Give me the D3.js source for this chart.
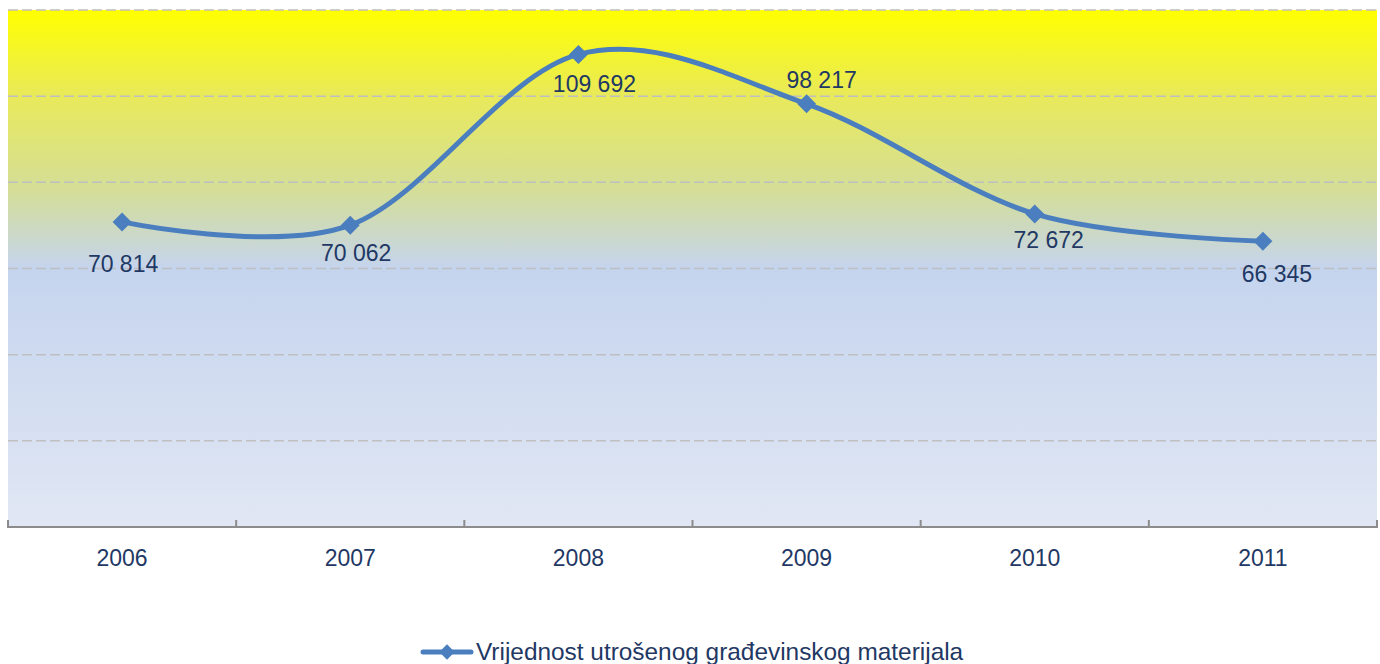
<!DOCTYPE html>
<html lang="hr">
<head>
  <meta charset="UTF-8">
  <title>Vrijednost utrošenog građevinskog materijala</title>
  <script src="https://cdn.jsdelivr.net/npm/d3@7/dist/d3.min.js"></script>
  <style>
  html, body { margin: 0; padding: 0; background: #fff; }
  svg { display: block; font-family: "Liberation Sans", Arial, sans-serif; }
  .grid line { stroke: #bfbfbf; stroke-width: 1.5px; stroke-dasharray: 10,4; }
  .x-axis path, .x-axis line { stroke: #8c8c8c; stroke-width: 2px; }
  .x-axis text { fill: #1f3864; font-size: 23px; }
  .point-label { fill: #1f3864; font-size: 23px; text-anchor: middle; }
  .legend text { fill: #1f3864; font-size: 24.4px; }
  </style>
</head>
<body>
<div id="chart"></div>
<script>
// data
const years = ['2006', '2007', '2008', '2009', '2010', '2011'];
const values = [70814, 70062, 109692, 98217, 72672, 66345];
const seriesName = 'Vrijednost utrošenog građevinskog materijala';
const yTicks = [0, 20000, 40000, 60000, 80000, 100000, 120000];

// label placement (dx, dy from the marker), as in the original chart
const labelShift = [[1, 50], [6, 36], [16, 38], [15, -16], [14, 34], [14, 41]];

const width = 1380, height = 664;
const margin = {top: 10, right: 3, bottom: 137, left: 8};

const svg = d3.select('#chart').append('svg')
  .attr('width', width).attr('height', height);

const x = d3.scaleBand().domain(years)
  .range([margin.left, width - margin.right]);
const y = d3.scaleLinear().domain([0, 120000])
  .range([height - margin.bottom, margin.top]);

// background gradient
const grad = svg.append('defs').append('linearGradient')
  .attr('id', 'bg').attr('x1', 0).attr('y1', 0).attr('x2', 0).attr('y2', 1);
[[0, '#ffff00'], [0.17, '#e8e95c'], [0.35, '#d4de98'], [0.5, '#c5d4ee'], [1, '#e1e7f4']]
  .forEach(s => grad.append('stop').attr('offset', s[0]).attr('stop-color', s[1]));

svg.append('rect')
  .attr('x', margin.left).attr('y', margin.top)
  .attr('width', width - margin.left - margin.right)
  .attr('height', y(0) - margin.top)
  .attr('fill', 'url(#bg)');

// gridlines
svg.append('g').attr('class', 'grid')
  .selectAll('line').data(yTicks.filter(d => d > 0)).join('line')
    .attr('x1', margin.left).attr('x2', width - margin.right)
    .attr('y1', d => y(d)).attr('y2', d => y(d));

// x axis, ticks on the band edges
const xAxis = svg.append('g').attr('class', 'x-axis')
  .attr('transform', `translate(0,${y(0)})`);
xAxis.append('path')
  .attr('d', `M${margin.left},0H${width - margin.right}`);
const edges = years.map(d => x(d)).concat([x(years[years.length - 1]) + x.bandwidth()]);
xAxis.selectAll('line').data(edges).join('line')
  .attr('x1', d => d).attr('x2', d => d)
  .attr('y1', -7).attr('y2', 1);
xAxis.selectAll('text').data(years).join('text')
  .attr('x', d => x(d) + x.bandwidth() / 2)
  .attr('y', 39)
  .attr('text-anchor', 'middle')
  .text(d => d);

// line
const pts = years.map((d, i) => [x(d) + x.bandwidth() / 2, y(values[i])]);
const line = d3.line().curve(d3.curveCardinal.tension(0));
svg.append('path')
  .attr('d', line(pts))
  .attr('fill', 'none')
  .attr('stroke', '#4a7ebf')
  .attr('stroke-width', 5)
  .attr('stroke-linejoin', 'round');

const diamond = d3.symbol().type(d3.symbolDiamond2).size(230);
svg.append('g').selectAll('path').data(pts).join('path')
  .attr('d', diamond)
  .attr('transform', d => `translate(${d[0]},${d[1]})`)
  .attr('fill', '#4a7ebf');

const fmt = v => d3.format(',')(v).replace(/,/g, ' ');
svg.append('g').selectAll('text').data(pts).join('text')
  .attr('class', 'point-label')
  .attr('x', (d, i) => d[0] + labelShift[i][0])
  .attr('y', (d, i) => d[1] + labelShift[i][1])
  .text((d, i) => fmt(values[i]));

// legend
const legend = svg.append('g').attr('class', 'legend')
  .attr('transform', 'translate(423,652)');
legend.append('line')
  .attr('x1', 0).attr('x2', 48).attr('y1', 0).attr('y2', 0)
  .attr('stroke', '#4a7ebf').attr('stroke-width', 5).attr('stroke-linecap', 'round');
legend.append('path')
  .attr('d', d3.symbol().type(d3.symbolDiamond2).size(150))
  .attr('transform', 'translate(24,0)')
  .attr('fill', '#4a7ebf');
legend.append('text')
  .attr('x', 53).attr('y', 8)
  .text(seriesName);
</script>
</body>
</html>
